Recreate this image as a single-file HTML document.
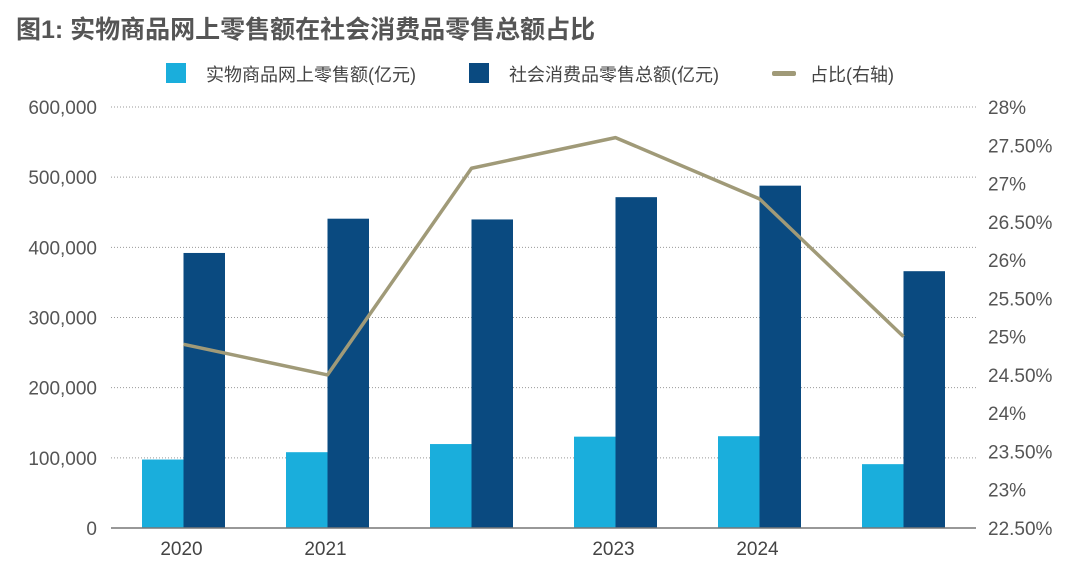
<!DOCTYPE html>
<html><head><meta charset="utf-8"><style>
body{margin:0;background:#fff;width:1080px;height:581px;overflow:hidden;font-family:"Liberation Sans","Noto Sans CJK SC",sans-serif}
</style></head><body>
<svg id="chart" width="1080" height="581" xmlns="http://www.w3.org/2000/svg">
<text x="16" y="38" font-size="25" font-weight="bold" fill="#555" font-family="Liberation Sans, Noto Sans CJK SC, sans-serif">图1: 实物商品网上零售额在社会消费品零售总额占比</text>
<g font-size="18" fill="#444" font-family="Liberation Sans, Noto Sans CJK SC, sans-serif">
<rect x="166" y="63" width="20" height="20" fill="#1aaedc"/>
<text x="206" y="81">实物商品网上零售额(亿元)</text>
<rect x="469" y="63" width="20" height="20" fill="#0a4a80"/>
<text x="509" y="81">社会消费品零售总额(亿元)</text>
<rect x="772" y="71" width="24" height="5" rx="2" fill="#a09a78"/>
<text x="810" y="81">占比(右轴)</text>
</g>
<g id="plot"></g>
</svg>
<script>
const categories=["2020","2021","","2023","2024",""];
const onlineSales=[97590,108042,119642,130174,130816,91000];
const totalSales=[391981,440823,439733,471495,487895,366000];
const ratio=[24.9,24.5,27.2,27.6,26.8,25.0];
const leftTicks=[0,100000,200000,300000,400000,500000,600000];
const rightTicks=[22.5,23,23.5,24,24.5,25,25.5,26,26.5,27,27.5,28];

const NS="http://www.w3.org/2000/svg";
const plotG=document.getElementById('plot');
const plotTop=107,plotBot=528,plotX0=111,plotX1=976;
const yL=v=>plotBot-(v/600000)*(plotBot-plotTop);
const yR=v=>plotBot-((v-22.5)/5.5)*(plotBot-plotTop);
const xC=i=>183.5+i*144;
function mk(t,a){const e=document.createElementNS(NS,t);for(const k in a)e.setAttribute(k,a[k]);plotG.appendChild(e);return e;}
leftTicks.forEach(v=>{
  if(v>0){const l=mk('line',{x1:plotX0,x2:plotX1,y1:yL(v),y2:yL(v),stroke:'#999','stroke-width':1,'stroke-dasharray':'1,2'});
  
  }
  const t=mk('text',{x:97,y:yL(v)+7,'text-anchor':'end','font-size':19,fill:'#555','font-family':'Liberation Sans, sans-serif'});
  t.textContent=v.toLocaleString('en-US');
  
  
});
rightTicks.forEach(v=>{
  const t=mk('text',{x:988,y:yR(v)+7,'font-size':19,fill:'#555','font-family':'Liberation Sans, sans-serif'});
  t.textContent=(Number.isInteger(v)?v:v.toFixed(2))+'%';
  
  
});
categories.forEach((c,i)=>{
  const a=mk('rect',{x:xC(i)-41.5,y:yL(onlineSales[i]),width:41.5,height:plotBot-yL(onlineSales[i]),fill:'#1aaedc'});
  
  
  const b=mk('rect',{x:xC(i),y:yL(totalSales[i]),width:41.5,height:plotBot-yL(totalSales[i]),fill:'#0a4a80'});
  
  
  const t=mk('text',{x:xC(i)-2,y:555,'text-anchor':'middle','font-size':19,fill:'#444','font-family':'Liberation Sans, sans-serif'});
  t.textContent=c;
  
  
});
const ax=mk('line',{x1:plotX0,x2:plotX1,y1:plotBot,y2:plotBot,stroke:'#777','stroke-width':1.5});


const pl=mk('polyline',{points:ratio.map((v,i)=>xC(i)+','+yR(v)).join(' '),fill:'none',stroke:'#a09a78','stroke-width':3.5,'stroke-linejoin':'round'});


</script>
</body></html>
